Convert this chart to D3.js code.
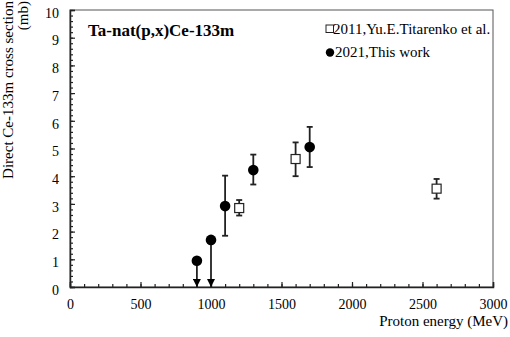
<!DOCTYPE html>
<html>
<head>
<meta charset="utf-8">
<script src="https://cdn.jsdelivr.net/npm/d3@7"></script>
<style>
  body { margin: 0; background: #fff; }
</style>
</head>
<body>
<svg id="chart" width="510" height="337"></svg>
<script>
// data
const workEnergy = [900, 1000, 1100, 1300, 1700]
const workValue = [0.95, 1.7, 2.92, 4.22, 5.05]
const workLow = [null, null, 1.85, 3.7, 4.33]
const workHigh = [null, null, 4.02, 4.78, 5.78]
const workUpperLimit = [true, true, false, false, false]

const titEnergy = [1200, 1600, 2600]
const titValue = [2.85, 4.62, 3.55]
const titLow = [2.58, 4.0, 3.19]
const titHigh = [3.14, 5.22, 3.9]

const xTicks = [0, 500, 1000, 1500, 2000, 2500, 3000]
const yTicks = [0, 1, 2, 3, 4, 5, 6, 7, 8, 9, 10]

const serif = 'Liberation Serif, Times New Roman, DejaVu Serif, serif'

const svg = d3.select('#chart').attr('font-family', serif)
const width = 510, height = 337
const margin = { left: 70, right: 17, top: 10, bottom: 50 }

const x = d3.scaleLinear().domain([0, 3000]).range([margin.left, width - margin.right])
const y = d3.scaleLinear().domain([0, 10]).range([height - margin.bottom, margin.top])

const defs = svg.append('defs')
defs.append('marker')
  .attr('id', 'arrow')
  .attr('viewBox', '0 0 10 10')
  .attr('refX', 10).attr('refY', 5)
  .attr('markerWidth', 8).attr('markerHeight', 8)
  .attr('markerUnits', 'userSpaceOnUse')
  .attr('orient', 'auto')
  .append('path')
  .attr('d', 'M0,0 L10,5 L0,10 Z')
  .attr('fill', '#000')

// frame
svg.append('rect')
  .attr('x', x(0)).attr('y', y(10))
  .attr('width', x(3000) - x(0)).attr('height', y(0) - y(10))
  .attr('fill', 'none').attr('stroke', '#555').attr('stroke-width', 1)

// minor ticks
const minorX = svg.append('g')
  .attr('transform', `translate(0,${y(0)})`)
  .call(d3.axisBottom(x).tickValues(d3.range(0, 3001, 100)).tickSize(-3).tickFormat(''))
minorX.select('.domain').remove()
const minorY = svg.append('g')
  .attr('transform', `translate(${x(0)},0)`)
  .call(d3.axisLeft(y).tickValues(d3.range(0, 10.01, 0.2)).tickSize(-3).tickFormat(''))
minorY.select('.domain').remove()

// main axes
const xAxis = svg.append('g')
  .attr('transform', `translate(0,${y(0)})`)
  .call(d3.axisBottom(x).tickValues(xTicks).tickSize(-5).tickFormat(d3.format('d')))
const yAxis = svg.append('g')
  .attr('transform', `translate(${x(0)},0)`)
  .call(d3.axisLeft(y).tickValues(yTicks).tickSize(-5).tickFormat(d3.format('d')))

svg.selectAll('g').attr('font-family', serif)
svg.selectAll('.tick line').attr('stroke', '#222').attr('stroke-width', 1.2)
svg.selectAll('.domain').attr('stroke', '#222').attr('stroke-width', 1.5)
svg.selectAll('.tick text').attr('font-size', 14).attr('fill', '#000')
xAxis.selectAll('.tick text').attr('dy', '0.71em').attr('y', 12)
yAxis.selectAll('.tick text').attr('dy', '0.52em').attr('x', -11)

// axis titles
svg.append('text')
  .attr('x', width - 2).attr('y', 326)
  .attr('text-anchor', 'end')
  .attr('font-size', 15)
  .text('Proton energy (MeV)')

svg.append('text')
  .attr('transform', 'translate(13,1) rotate(-90)')
  .attr('text-anchor', 'end')
  .attr('font-size', 15)
  .text('Direct Ce-133m cross section')
svg.append('text')
  .attr('transform', 'translate(28,1) rotate(-90)')
  .attr('text-anchor', 'end')
  .attr('font-size', 15)
  .text('(mb)')

// title
svg.append('text')
  .attr('x', 88).attr('y', 36)
  .attr('font-size', 17).attr('font-weight', 'bold')
  .text('Ta-nat(p,x)Ce-133m')

// error bars helper
function errorBars(g, ex, lo, hi) {
  const idx = d3.range(ex.length).filter(i => lo[i] != null)
  g.selectAll('line.err').data(idx).enter().append('line')
    .attr('x1', i => x(ex[i])).attr('x2', i => x(ex[i]))
    .attr('y1', i => y(lo[i])).attr('y2', i => y(hi[i]))
    .attr('stroke', '#222').attr('stroke-width', 1.8)
  ;[lo, hi].forEach(arr => {
    g.selectAll(null).data(idx).enter().append('line')
      .attr('x1', i => x(ex[i]) - 3).attr('x2', i => x(ex[i]) + 3)
      .attr('y1', i => y(arr[i])).attr('y2', i => y(arr[i]))
      .attr('stroke', '#222').attr('stroke-width', 1.8)
  })
}

const titG = svg.append('g')
errorBars(titG, titEnergy, titLow, titHigh)
titG.selectAll('rect').data(titEnergy).enter().append('rect')
  .attr('x', (d) => x(d) - 4.5).attr('y', (d, i) => y(titValue[i]) - 4.5)
  .attr('width', 9).attr('height', 9)
  .attr('fill', '#fff').attr('stroke', '#222').attr('stroke-width', 1.2)

const workG = svg.append('g')
errorBars(workG, workEnergy, workLow, workHigh)
// upper limit arrows
workG.selectAll('line.lim').data(d3.range(workEnergy.length).filter(i => workUpperLimit[i]))
  .enter().append('line')
  .attr('x1', i => x(workEnergy[i])).attr('x2', i => x(workEnergy[i]))
  .attr('y1', i => y(workValue[i])).attr('y2', y(0))
  .attr('stroke', '#222').attr('stroke-width', 1.8)
  .attr('marker-end', 'url(#arrow)')
workG.selectAll('circle').data(workEnergy).enter().append('circle')
  .attr('cx', d => x(d)).attr('cy', (d, i) => y(workValue[i]))
  .attr('r', 5.3).attr('fill', '#000')

// legend
const leg = svg.append('g')
leg.append('rect')
  .attr('x', 326).attr('y', 25).attr('width', 7.5).attr('height', 7.5)
  .attr('fill', '#fff').attr('stroke', '#222').attr('stroke-width', 1)
leg.append('text').attr('x', 333).attr('y', 34).attr('font-size', 15)
  .text('2011,Yu.E.Titarenko et al.')
leg.append('circle').attr('cx', 330).attr('cy', 52.5).attr('r', 4.2).attr('fill', '#000')
leg.append('text').attr('x', 335).attr('y', 57).attr('font-size', 15)
  .text('2021,This work')
</script>
</body>
</html>
